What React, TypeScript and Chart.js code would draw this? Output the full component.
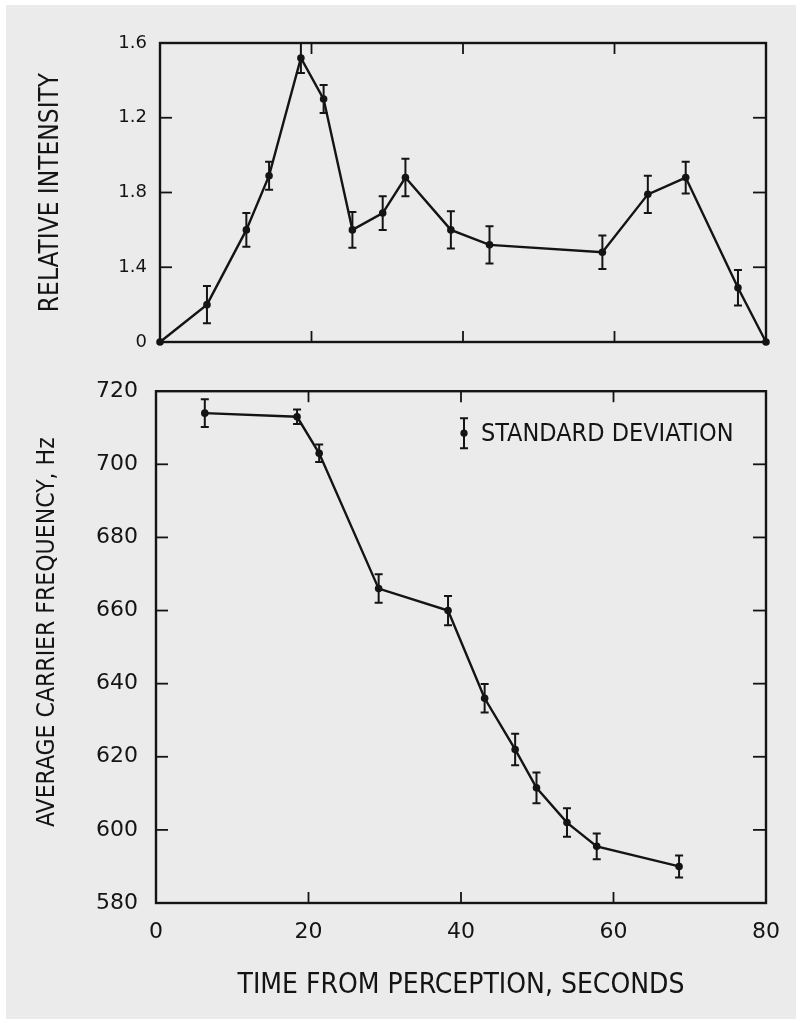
import React, { useEffect, useRef } from "react";
import { Chart, registerables } from "chart.js";

Chart.register(...registerables);

// ---------- data ----------
const timeTop = [0, 6.2, 11.4, 14.4, 18.6, 21.6, 25.4, 29.4, 32.4, 38.4, 43.5, 58.4, 64.4, 69.4, 76.3, 80];
const intensity = [0, 0.2, 0.6, 0.89, 1.52, 1.3, 0.6, 0.69, 0.88, 0.6, 0.52, 0.48, 0.79, 0.88, 0.29, 0];
const intensityErr = [0, 0.1, 0.09, 0.075, 0.08, 0.075, 0.095, 0.09, 0.1, 0.1, 0.1, 0.09, 0.1, 0.085, 0.095, 0];
const topTickLabels = ["0", "1.4", "1.8", "1.2", "1.6"];

const timeBottom = [6.4, 18.5, 21.4, 29.2, 38.3, 43.1, 47.1, 49.9, 53.9, 57.8, 68.6];
const frequency = [714, 713, 703, 666, 660, 636, 622, 611.5, 602, 595.5, 590];
const frequencyErr = [3.8, 2, 2.4, 3.9, 4, 3.9, 4.3, 4.2, 3.9, 3.5, 3];

const legendText = "STANDARD DEVIATION";
const topYTitle = "RELATIVE INTENSITY";
const bottomYTitle = "AVERAGE CARRIER FREQUENCY, Hz";
const xTitle = "TIME FROM PERCEPTION, SECONDS";

// ---------- style ----------
const INK = "#141414";
const BG = "#ebebeb";
const LETTER_FONT = "'Liberation Sans Narrow', 'DejaVu Sans Condensed', 'Liberation Sans', sans-serif";
const DIGIT_FONT = "'DejaVu Sans', sans-serif";

const framePlugin = {
  id: "frame",
  beforeDatasetsDraw(chart: any) {
    const { ctx, chartArea: a, scales } = chart;
    ctx.save();
    ctx.strokeStyle = INK;
    ctx.lineWidth = 2.4;
    ctx.strokeRect(a.left, a.top, a.right - a.left, a.bottom - a.top);
    ctx.lineWidth = 1.8;
    const tl = 11;
    const seg = (x1: number, y1: number, x2: number, y2: number) => {
      ctx.beginPath();
      ctx.moveTo(x1, y1);
      ctx.lineTo(x2, y2);
      ctx.stroke();
    };
    scales.x.ticks.forEach((t: any) => {
      const px = scales.x.getPixelForValue(t.value);
      if (px <= a.left + 1 || px >= a.right - 1) return;
      seg(px, a.bottom, px, a.bottom - tl);
      seg(px, a.top, px, a.top + tl);
    });
    scales.y.ticks.forEach((t: any) => {
      const py = scales.y.getPixelForValue(t.value);
      if (py <= a.top + 1 || py >= a.bottom - 1) return;
      seg(a.left, py, a.left + tl + 1, py);
      seg(a.right, py, a.right - tl - 2, py);
    });
    ctx.restore();
  },
};

const errorBarPlugin = {
  id: "errorBars",
  afterDatasetsDraw(chart: any) {
    const { ctx, scales } = chart;
    chart.data.datasets.forEach((ds: any) => {
      const errs: number[] = ds.errors || [];
      ctx.save();
      ctx.strokeStyle = INK;
      ctx.lineWidth = 2;
      ds.data.forEach((p: any, i: number) => {
        const e = errs[i];
        if (!e) return;
        const x = scales.x.getPixelForValue(p.x);
        const y1 = scales.y.getPixelForValue(p.y + e);
        const y2 = scales.y.getPixelForValue(p.y - e);
        ctx.beginPath();
        ctx.moveTo(x, y1);
        ctx.lineTo(x, y2);
        ctx.moveTo(x - 4, y1);
        ctx.lineTo(x + 4, y1);
        ctx.moveTo(x - 4, y2);
        ctx.lineTo(x + 4, y2);
        ctx.stroke();
      });
      ctx.restore();
    });
  },
};

const legendPlugin = {
  id: "sdLegend",
  afterDraw(chart: any) {
    const { ctx, chartArea: a } = chart;
    const cx = a.left + 308;
    const cy = a.top + 42;
    ctx.save();
    ctx.strokeStyle = INK;
    ctx.fillStyle = INK;
    ctx.lineWidth = 2;
    ctx.beginPath();
    ctx.moveTo(cx, cy - 15);
    ctx.lineTo(cx, cy + 15);
    ctx.moveTo(cx - 4, cy - 15);
    ctx.lineTo(cx + 4, cy - 15);
    ctx.moveTo(cx - 4, cy + 15);
    ctx.lineTo(cx + 4, cy + 15);
    ctx.stroke();
    ctx.beginPath();
    ctx.arc(cx, cy, 3.6, 0, Math.PI * 2);
    ctx.fill();
    ctx.font = `25px ${LETTER_FONT}`;
    ctx.textBaseline = "middle";
    ctx.textAlign = "left";
    ctx.fillText(legendText, cx + 17, cy + 1);
    ctx.restore();
  },
};

// vertical axis title for the lower panel, placed a little above the panel centre
const lowerTitlePlugin = {
  id: "lowerTitle",
  afterDraw(chart: any) {
    const { ctx, chartArea: a } = chart;
    ctx.save();
    ctx.fillStyle = INK;
    ctx.font = `24.5px ${LETTER_FONT}`;
    ctx.textAlign = "center";
    ctx.textBaseline = "middle";
    ctx.translate(48, (a.top + a.bottom) / 2 - 15);
    ctx.rotate(-Math.PI / 2);
    ctx.fillText(bottomYTitle, 0, 0);
    ctx.restore();
  },
};

function lineDataset(xs: number[], ys: number[], errs: number[]) {
  return {
    data: xs.map((x, i) => ({ x, y: ys[i] })),
    errors: errs,
    showLine: true,
    borderColor: INK,
    borderWidth: 2.4,
    backgroundColor: INK,
    pointRadius: 3.8,
    pointBorderWidth: 0,
    pointBackgroundColor: INK,
    tension: 0,
    clip: false,
  } as any;
}

export default function App() {
  const topRef = useRef<HTMLCanvasElement>(null);
  const botRef = useRef<HTMLCanvasElement>(null);

  useEffect(() => {
    const top = new Chart(topRef.current as HTMLCanvasElement, {
      type: "scatter",
      data: { datasets: [lineDataset(timeTop, intensity, intensityErr)] },
      options: {
        responsive: false,
        animation: false,
        layout: { padding: { left: 0, right: 34, top: 43, bottom: 28 } },
        plugins: { legend: { display: false }, tooltip: { enabled: false } },
        scales: {
          x: {
            type: "linear",
            min: 0,
            max: 80,
            ticks: { display: false, stepSize: 20 },
            grid: { display: false },
            border: { display: false },
            afterFit: (s: any) => {
              s.height = 0;
            },
          },
          y: {
            type: "linear",
            min: 0,
            max: 1.6,
            ticks: {
              stepSize: 0.4,
              padding: 13,
              color: INK,
              font: { family: DIGIT_FONT, size: 18 },
              callback: (_v: any, i: number) => topTickLabels[i],
            },
            grid: { display: false, drawTicks: false },
            border: { display: false },
            title: {
              display: true,
              text: topYTitle,
              color: INK,
              font: { family: LETTER_FONT, size: 26 },
              padding: { top: 36, bottom: 0 },
            },
            afterFit: (s: any) => {
              s.width = 160;
            },
          },
        },
      },
      plugins: [framePlugin, errorBarPlugin],
    } as any);

    const bot = new Chart(botRef.current as HTMLCanvasElement, {
      type: "scatter",
      data: { datasets: [lineDataset(timeBottom, frequency, frequencyErr)] },
      options: {
        responsive: false,
        animation: false,
        layout: { padding: { left: 0, right: 34, top: 20, bottom: 0 } },
        plugins: { legend: { display: false }, tooltip: { enabled: false } },
        scales: {
          x: {
            type: "linear",
            min: 0,
            max: 80,
            ticks: {
              stepSize: 20,
              padding: 16,
              color: INK,
              font: { family: DIGIT_FONT, size: 22 },
            },
            grid: { display: false, drawTicks: false },
            border: { display: false },
            title: {
              display: true,
              text: xTitle,
              color: INK,
              font: { family: LETTER_FONT, size: 28 },
              padding: { top: 0, bottom: 20 },
            },
            afterFit: (s: any) => {
              s.height = 120;
            },
          },
          y: {
            type: "linear",
            min: 580,
            max: 720,
            ticks: {
              stepSize: 20,
              padding: 18,
              color: INK,
              font: { family: DIGIT_FONT, size: 22 },
            },
            grid: { display: false, drawTicks: false },
            border: { display: false },
            afterFit: (s: any) => {
              s.width = 156;
            },
          },
        },
      },
      plugins: [framePlugin, errorBarPlugin, legendPlugin, lowerTitlePlugin],
    } as any);

    return () => {
      top.destroy();
      bot.destroy();
    };
  }, []);

  return (
    <div style={{ position: "fixed", left: 0, top: 0, width: 800, height: 1023, background: "#ffffff" }}>
      <div style={{ position: "absolute", left: 6, top: 5, width: 790, height: 1014, background: BG }} />
      <canvas ref={topRef} width={800} height={370} style={{ position: "absolute", left: 0, top: 0 }} />
      <canvas ref={botRef} width={800} height={663} style={{ position: "absolute", left: 0, top: 360 }} />
    </div>
  );
}
